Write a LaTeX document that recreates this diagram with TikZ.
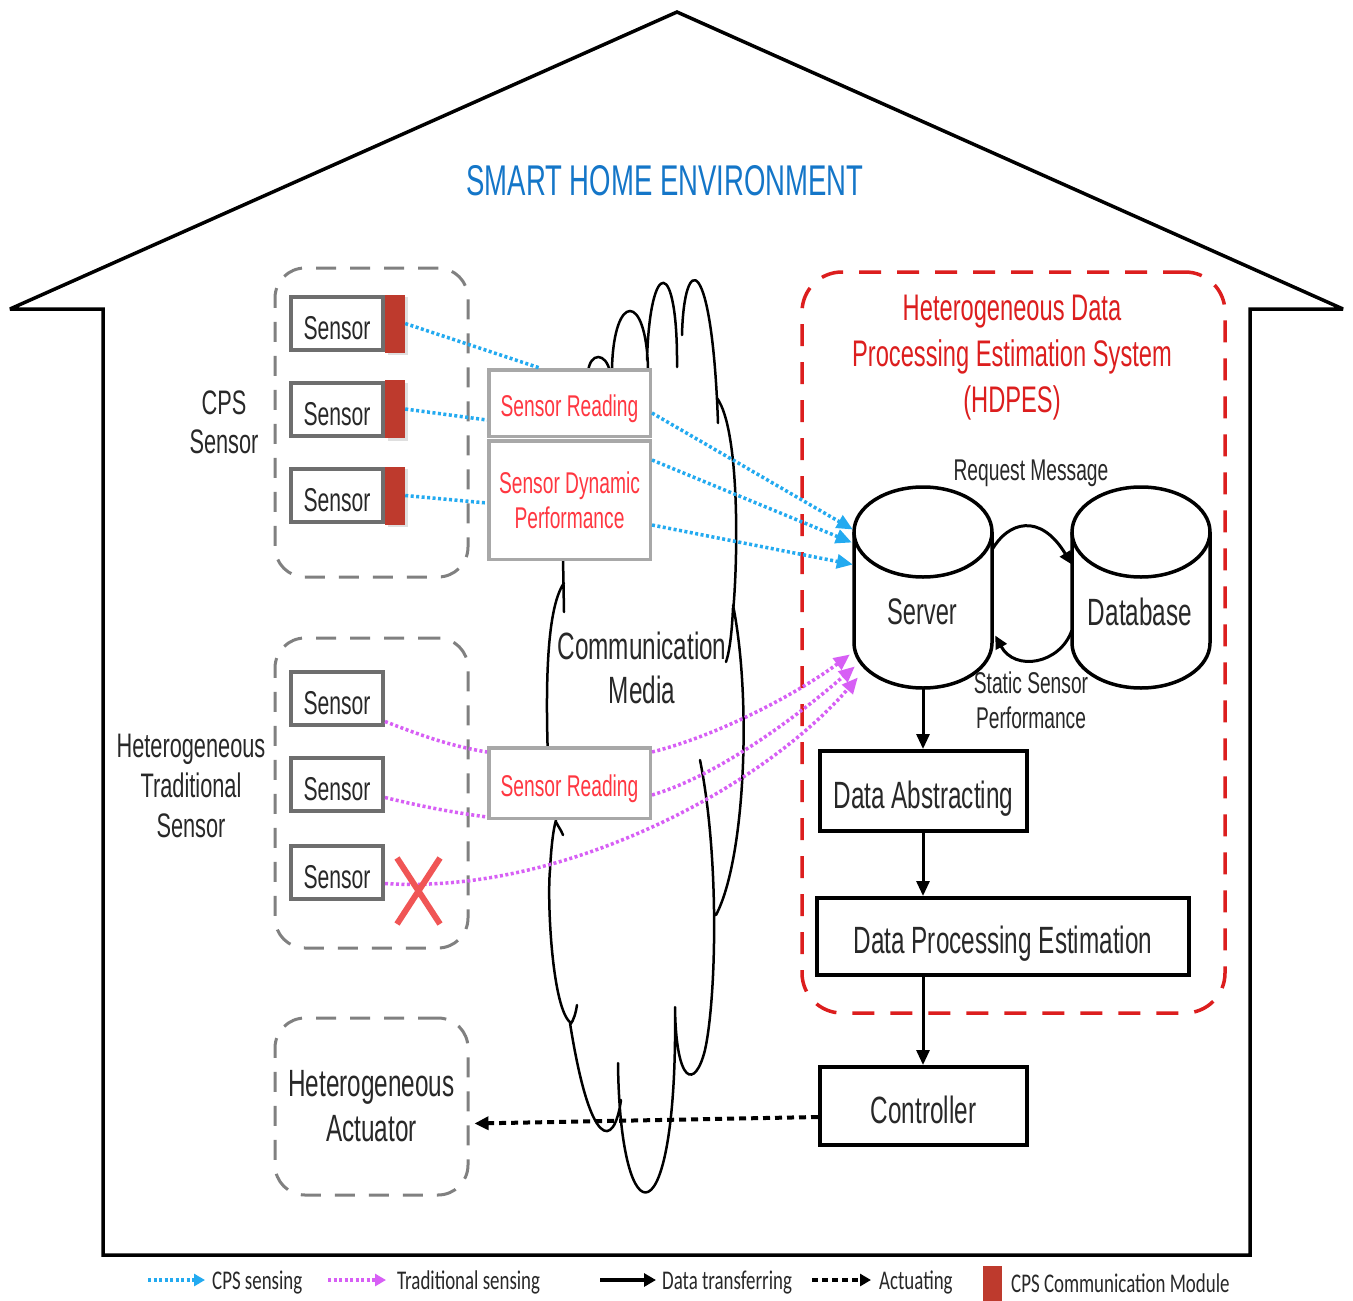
\documentclass[tikz,border=0pt]{standalone}
\usepackage{fontspec}
\setmainfont[FakeStretch=0.64]{Liberation Sans}
\newfontfamily\legendfont[FakeStretch=0.70]{Carlito}
\usetikzlibrary{arrows.meta,calc,shadows}
\definecolor{titleblue}{RGB}{20,118,200}
\definecolor{cpsblue}{RGB}{35,170,240}
\definecolor{tradpink}{RGB}{215,95,245}
\definecolor{modred}{RGB}{190,58,45}
\definecolor{crossred}{RGB}{240,85,85}
\definecolor{readred}{RGB}{255,55,65}
\definecolor{hdpesred}{RGB}{220,30,30}
\definecolor{grpgray}{RGB}{128,128,128}
\definecolor{sensgray}{RGB}{110,110,110}
\definecolor{boxgray}{RGB}{168,168,168}
\definecolor{ink}{RGB}{40,40,40}
\newcommand\fsz[2]{\fontsize{#1}{#2}\selectfont}
\begin{document}
\begin{tikzpicture}[x=1pt,y=-1pt,
  sensorbox/.style={draw=sensgray,line width=4pt,fill=white,minimum width=92pt,minimum height=53pt,inner sep=0pt,text=ink,font=\fsz{33}{38},text height=32.3pt,text depth=0pt},
  module/.style={fill=modred,minimum width=20pt,minimum height=58pt,inner sep=0pt,drop shadow={shadow xshift=2.5pt,shadow yshift=-2.5pt,opacity=0.25}},
  readbox/.style={draw=boxgray,line width=3.5pt,fill=white,minimum width=161.5pt,inner sep=0pt,text=readred,font=\fsz{30}{35},align=center},
  oneline/.style={text height=27.6pt,text depth=0pt},
  grp/.style={draw=grpgray,line width=3pt,dash pattern=on 20pt off 14pt,rounded corners=30pt,minimum width=193pt,inner sep=0pt,text=ink},
  stage/.style={draw=black,line width=4pt,fill=white,inner sep=0pt,text=ink,font=\fsz{38}{44},text height=34.2pt,text depth=0pt},
  cylside/.style={draw=black,line width=3.5pt},
  plain/.style={text=ink,inner sep=0pt,align=center},
  cpsline/.style={draw=cpsblue,line width=3.5pt,dash pattern=on 3pt off 2.5pt},
  tradline/.style={draw=tradpink,line width=3.5pt,dash pattern=on 3pt off 2.5pt},
  cpsarrow/.style={cpsline,-{Triangle[length=16pt,width=14pt]}},
  tradarrow/.style={tradline,-{Triangle[length=16pt,width=14pt]}},
  flow/.style={line width=3pt,-{Triangle[length=15pt,width=13pt]}},
  actline/.style={line width=4pt,dash pattern=on 7pt off 5pt,-{Triangle[length=14pt,width=13pt]}},
  cloudline/.style={line width=2.5pt,line cap=round},
  legendtext/.style={text=ink,inner sep=0pt,anchor=base west,font=\legendfont\fsz{27}{32}}
]
\useasboundingbox (0,0) rectangle (1353,1301);
\fill[white] (0,0) rectangle (1353,1301);

% house outline
\draw[line width=3.5pt,line join=miter,miter limit=4] (103,309) -- (10,309) -- (677,12) -- (1343,309) -- (1250,309) -- (1250,1255) -- (103,1255) -- cycle;
\node[text=titleblue,font=\fsz{43}{50},inner sep=0pt] (title) at (665,181) {SMART HOME ENVIRONMENT};

% communication cloud
\draw[cloudline]
 (588,372) .. controls (590,352) and (606,352) .. (610,372)
 (612,368) .. controls (614,292) and (646,292) .. (648,368)
 (647,360) .. controls (650,256) and (678,256) .. (677,367)
 (682,335) .. controls (684,251) and (712,251) .. (718,423)
 (717,398) .. controls (740,430) and (738,560) .. (733,612)
 (733,608) .. controls (732,630) and (730,650) .. (726,662)
 (733,605) .. controls (752,700) and (745,860) .. (716,915)
 (700,760) .. controls (720,860) and (716,1000) .. (705,1050) .. controls (695,1090) and (676,1085) .. (675,1007)
 (675,1007) .. controls (678,1244) and (620,1244) .. (618,1063)
 (621,1100) .. controls (614,1150) and (590,1150) .. (570,1023)
 (570,1025) .. controls (574,1020) and (576,1012) .. (577,1005)
 (571,1023) .. controls (552,1010) and (547,900) .. (550,870) .. controls (551,850) and (553,830) .. (556,820)
 (556,822) .. controls (558,826) and (561,830) .. (563,835)
 (563,558) -- (564,612)
 (564,583) .. controls (545,610) and (546,700) .. (548,760);
\node[text=ink,font=\fsz{38}{44},align=center,inner sep=0pt] (media) at (642,668) {Communication\\Media};

% sensor groups
\node[grp,minimum height=309pt] (cpsgrp) at (371.5,422.5) {};
\node[grp,minimum height=310pt] (tradgrp) at (371.5,793) {};
\node[grp,minimum height=177pt,align=center,font=\fsz{38}{45}] (act) at (371.5,1106.5) {Heterogeneous\\Actuator};
\node[plain,font=\fsz{34}{39}] (cpslbl) at (224,422) {CPS\\Sensor};
\node[plain,font=\fsz{34}{40}] (tradlbl) at (191,786) {Heterogeneous\\Traditional\\Sensor};

% HDPES frame
\node[draw=hdpesred,line width=3.5pt,dash pattern=on 22pt off 16pt,rounded corners=40pt,minimum width=423pt,minimum height=741pt,inner sep=0pt] (hdpes) at (1013.5,642.5) {};
\node[text=hdpesred,font=\fsz{37}{46},align=center,inner sep=0pt] (hdpestitle) at (1012,358) {Heterogeneous Data\\Processing Estimation System\\(HDPES)};

% server and database cylinders
\fill[white] (854,532) -- (854,643) arc[start angle=180,end angle=0,x radius=69,y radius=45] -- (992,532) -- cycle;
\draw[cylside] (854,532) -- (854,643) arc[start angle=180,end angle=0,x radius=69,y radius=45] -- (992,532);
\draw[cylside] (923,532) ellipse[x radius=69,y radius=45];
\fill[white] (1072,532) -- (1072,643) arc[start angle=180,end angle=0,x radius=69,y radius=45] -- (1210,532) -- cycle;
\draw[cylside] (1072,532) -- (1072,643) arc[start angle=180,end angle=0,x radius=69,y radius=45] -- (1210,532);
\draw[cylside] (1141,532) ellipse[x radius=69,y radius=45];
\node[minimum width=138pt,minimum height=201pt,inner sep=0pt] (srv) at (923,587.5) {};
\node[minimum width=138pt,minimum height=201pt,inner sep=0pt] (db) at (1141,587.5) {};
\node[plain,font=\fsz{37}{42}] (srvtxt) at (922,612) {Server};
\node[plain,font=\fsz{38}{42}] (dbtxt) at (1140,612) {Database};
\draw[line width=3pt,-{Triangle[length=13pt,width=12pt]}] ($(srv.east)+(0,-38)$) .. controls (1008,522) and (1040,512) .. ($(db.west)+(0,-23)$);
\draw[line width=3pt,-{Triangle[length=13pt,width=12pt]}] ($(db.west)+(0,43)$) .. controls (1060,664) and (1015,672) .. ($(srv.east)+(3,48)$);
\node[plain,font=\fsz{30}{35}] (reqmsg) at (1031,473) {Request Message};
\node[plain,font=\fsz{30}{35}] (statperf) at (1031,700) {Static Sensor\\Performance};

% processing chain
\node[stage,minimum width=207pt,minimum height=80pt] (da) at (923.5,791) {Data Abstracting};
\node[stage,minimum width=372pt,minimum height=77pt] (dpe) at (1003,936.5) {Data Processing Estimation};
\node[stage,minimum width=207pt,minimum height=78pt] (ctrl) at (923.5,1106) {Controller};
\draw[flow] (srv.south) -- (srv.south |- da.north);
\draw[flow] (srv.south |- da.south) -- (srv.south |- dpe.north);
\draw[flow] (srv.south |- dpe.south) -- (srv.south |- ctrl.north);
\draw[actline] ($(ctrl.west)+(0,11)$) -- ($(act.east)+(5,17)$);

% reading boxes
\node[readbox,oneline,minimum height=66.5pt] (sr) at (569.5,403) {Sensor Reading};
\node[readbox,minimum height=118.5pt] (sdp) at (569.5,500) {Sensor Dynamic\\Performance};
\node[readbox,oneline,minimum height=70.5pt] (br) at (569.5,783) {Sensor Reading};

% sensors
\node[module] (cm1) at (395,323.5) {};
\node[module] (cm2) at (395,409) {};
\node[module] (cm3) at (395,495.5) {};
\node[sensorbox] (c1) at (337,323.5) {Sensor};
\node[sensorbox] (c2) at (337,409) {Sensor};
\node[sensorbox] (c3) at (337,495.5) {Sensor};
\node[sensorbox] (t1) at (337,698.5) {Sensor};
\node[sensorbox] (t2) at (337,784.5) {Sensor};
\node[sensorbox] (t3) at (337,872.5) {Sensor};

% CPS sensing paths
\draw[cpsline] (cm1.east) -- ($(sr.north west)!0.32!(sr.north east)$);
\draw[cpsline] (cm2.east) -- ($(sr.west)+(0,17)$);
\draw[cpsline] (cm3.east) -- ($(sdp.west)+(0,3)$);
\draw[cpsarrow] ($(sr.east)+(0,10)$) -- ($(srv.west)+(-1,-58)$);
\draw[cpsarrow] ($(sdp.east)+(0,-40)$) -- ($(srv.west)+(-2,-45)$);
\draw[cpsarrow] ($(sdp.east)+(0,25)$) -- ($(srv.west)+(-1,-23)$);

% traditional sensing paths
\draw[tradline] ($(t1.east)+(0,23)$) .. controls (420,735) and (450,746) .. ($(br.west)+(0,-31)$);
\draw[tradline] ($(t2.east)+(0,13)$) .. controls (420,806) and (450,812) .. ($(br.west)+(0,34)$);
\draw[tradarrow] ($(br.east)+(0,-31)$) .. controls (720,735) and (800,692) .. ($(srv.west)+(-4,67)$);
\draw[tradarrow] ($(br.east)+(0,12)$) .. controls (720,775) and (800,714) .. ($(srv.west)+(1,79)$);
\draw[tradarrow] ($(t3.east)+(0,11)$) .. controls (560,895) and (760,790) .. ($(srv.west)+(4,90)$);

% failed sensor mark
\draw[crossred,line width=6pt] (397,858) -- (440,924) (440,858) -- (397,924);

% legend
\draw[cpsline,-{Triangle[length=11pt,width=12pt]}] (148,1280) -- (205,1280);
\node[legendtext] (lg1) at (212,1289) {CPS sensing};
\draw[tradline,-{Triangle[length=11pt,width=12pt]}] (328,1280) -- (386,1280);
\node[legendtext] (lg2) at (397,1289) {Traditional sensing};
\draw[line width=4pt,-{Triangle[length=12pt,width=13pt]}] (600,1280) -- (656,1280);
\node[legendtext] (lg3) at (662,1289) {Data transferring};
\draw[line width=4pt,dash pattern=on 6pt off 4pt,-{Triangle[length=11pt,width=12pt]}] (812,1280) -- (871,1280);
\node[legendtext] (lg4) at (879,1289) {Actuating};
\fill[modred] (983,1266) rectangle (1002,1301);
\node[legendtext] (lg5) at (1011,1292) {CPS Communication Module};
\end{tikzpicture}
\end{document}
